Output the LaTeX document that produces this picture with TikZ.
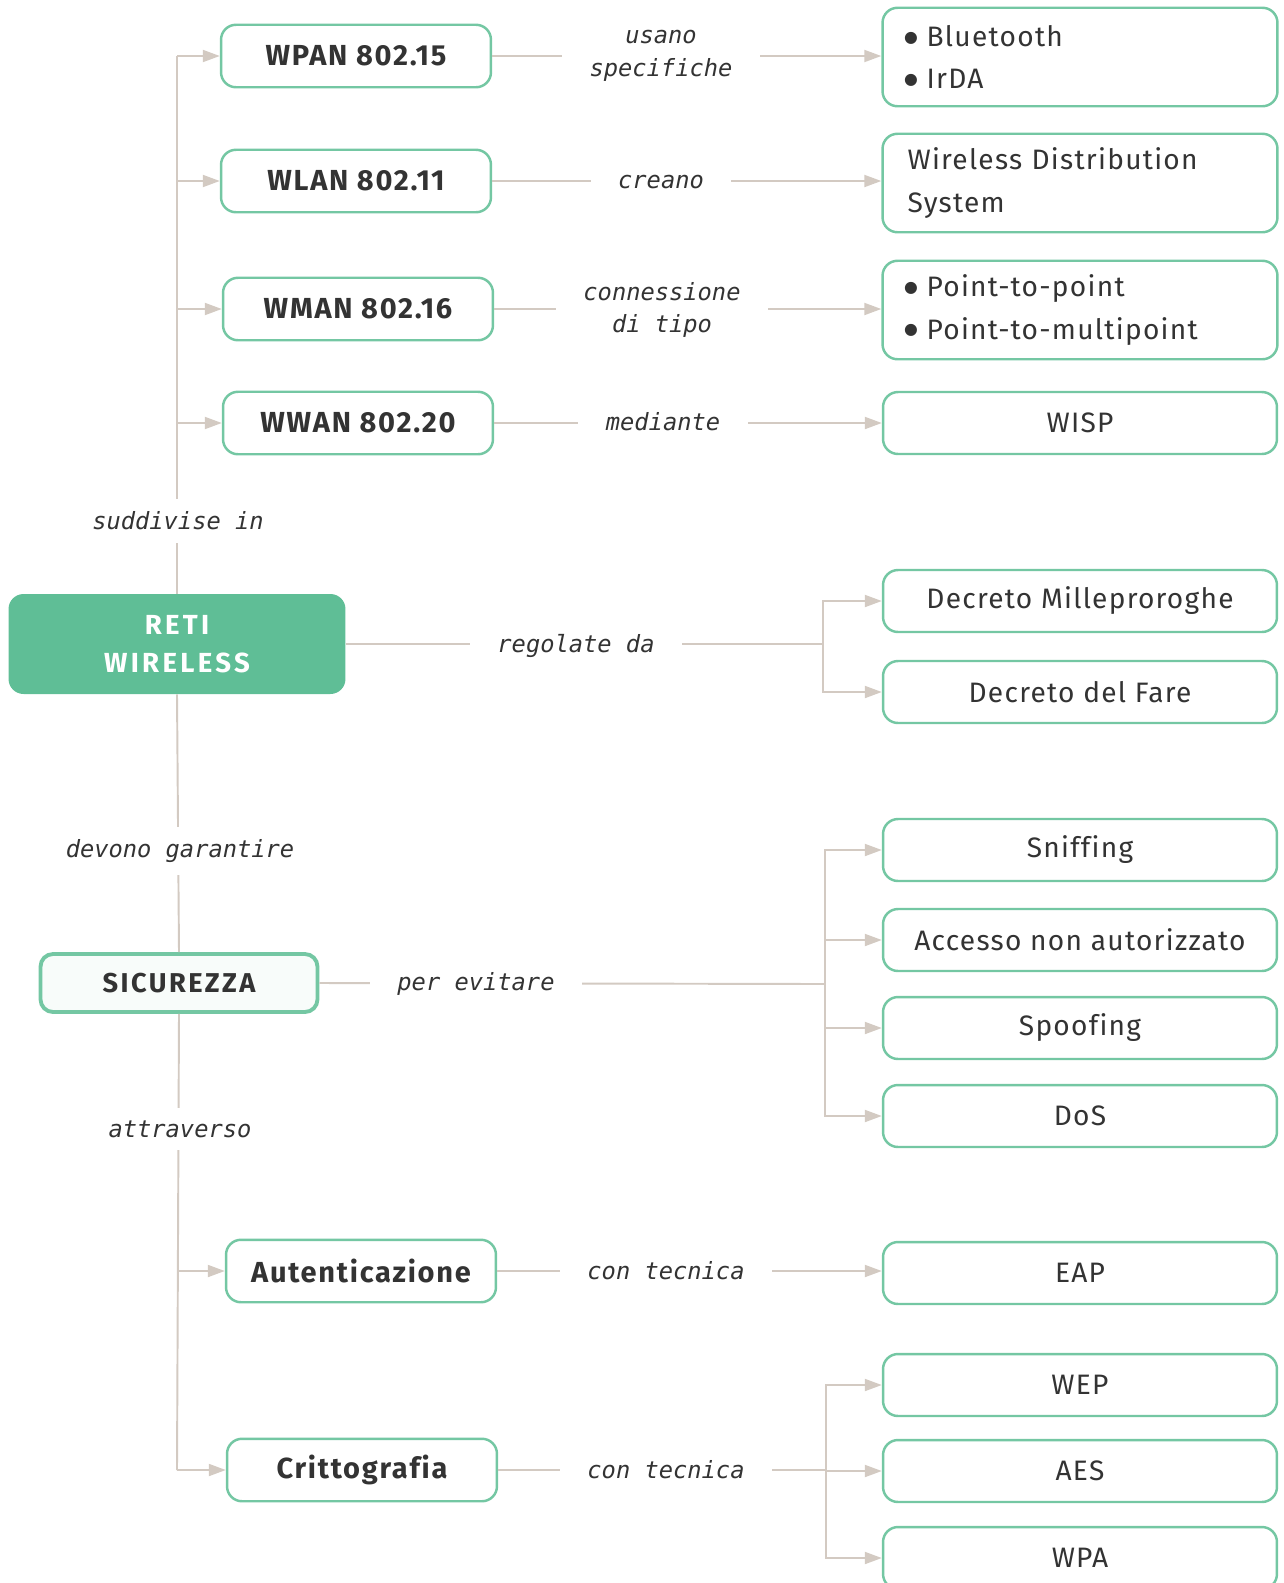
\documentclass[tikz,border=0pt]{standalone}
\usepackage{fontspec}
\setmainfont[Ligatures=NoCommon]{Fira Sans}
\newfontfamily\verbfont{DejaVu Sans Mono}
\newfontfamily\symfont{DejaVu Sans}
\usetikzlibrary{arrows.meta}
\definecolor{mint}{HTML}{74C7A3}
\definecolor{mintfill}{HTML}{5FBE96}
\definecolor{wire}{HTML}{D3CAC2}
\definecolor{ink}{HTML}{333333}
\newcommand\dotitem{\hspace{-2pt}\raisebox{2.4pt}{\symfont\fontsize{9}{9}\selectfont ●}\hspace{5pt}}

\begin{document}
\begin{tikzpicture}[x=0.02cm,y=-0.02cm,
  box/.style={draw=mint,line width=1.4pt,rounded corners=0.3cm,fill=white,text=ink,
    font=\fontsize{16}{24}\selectfont\addfontfeatures{LetterSpace=4.5},minimum width=7.88cm,minimum height=1.24cm},
  listbox/.style={box,align=left,text width=6.9cm,inner xsep=0.5cm,minimum height=1.97cm},
  kind/.style={draw=mint,line width=1.4pt,rounded corners=0.3cm,fill=white,text=ink,
    font=\fontsize{16.5}{20}\selectfont\bfseries\addfontfeatures{LetterSpace=6},minimum width=5.4cm,minimum height=1.25cm},
  verb/.style={fill=white,text=ink,font=\verbfont\itshape\fontsize{13.5}{18.5}\selectfont,
    align=center,inner xsep=0.55cm,inner ysep=0.25cm},
  link/.style={draw=wire,line width=1.1pt},
  tip/.style={link,-{Triangle[length=0.34cm,width=0.24cm]}},
]
\useasboundingbox (0,0) rectangle (1284,1583);

% main topic and security
\node[fill=mintfill,rounded corners=0.3cm,text=white,align=center,minimum width=6.74cm,
  minimum height=2cm,font=\fontsize{15.7}{22}\selectfont\bfseries\addfontfeatures{LetterSpace=12}]
  (reti) at (177,644) {RETI\\WIRELESS};
\node[draw=mint,line width=2.2pt,rounded corners=0.25cm,fill=mint!5,text=ink,minimum width=5.54cm,
  minimum height=1.16cm,font=\fontsize{15.5}{20}\selectfont\bfseries\addfontfeatures{LetterSpace=9}]
  (sic) at (179,983) {SICUREZZA};

% kinds of network
\node[kind] (wpan) at (356,56) {WPAN 802.15};
\node[kind] (wlan) at (356,181) {WLAN 802.11};
\node[kind] (wman) at (358,309) {WMAN 802.16};
\node[kind] (wwan) at (358,423) {WWAN 802.20};
\node[kind] (auth) at (361,1271) {Autenticazione};
\node[kind] (crit) at (362,1470) {Crittografia};

% right column
\node[listbox] (bt) at (1080,57) {\dotitem Bluetooth\\\dotitem IrDA};
\node[listbox] (wds) at (1080,183) {Wireless Distribution\\System};
\node[listbox] (ptp) at (1080,310) {\dotitem Point-to-point\\\dotitem Point-to-multipoint};
\node[box] (wisp) at (1080,423) {WISP};
\node[box] (dm) at (1080,601) {Decreto Milleproroghe};
\node[box] (df) at (1080,692) {Decreto del Fare};
\node[box] (sniff) at (1080,850) {Sniffing};
\node[box] (acc) at (1080,940) {Accesso non autorizzato};
\node[box] (spoof) at (1080,1028) {Spoofing};
\node[box] (dos) at (1080,1116) {DoS};
\node[box] (eap) at (1080,1273) {EAP};
\node[box] (wep) at (1080,1385) {WEP};
\node[box] (aes) at (1080,1471) {AES};
\node[box] (wpa) at (1080,1558) {WPA};

% trunk on the left
\coordinate (top) at (177,56);
\coordinate (bot) at (177,1470);
\draw[link] (top) -- (reti.north);
\draw[link] (reti.south) -- (sic.north);
\draw[link] (sic.south) -- (bot);
\draw[tip] (top) -- (wpan.west);
\foreach \k in {wlan,wman,wwan,auth,crit}
  \draw[tip] (\k.west -| top) -- (\k.west);

% straight links to the right
\foreach \a/\b in {wpan/bt,wlan/wds,wman/ptp,wwan/wisp,auth/eap}
  \draw[tip] (\a.east) -- (\a.east -| \b.west);

% forks
\coordinate (rj) at (823,644);
\draw[link] (reti.east) -- (rj);
\foreach \b in {dm,df} \draw[tip] (rj) |- (\b.west);
\coordinate (ej) at (825,984);
\draw[link] (sic.east) -- (ej);
\foreach \b in {sniff,acc,spoof,dos} \draw[tip] (ej) |- (\b.west);
\coordinate (cj) at (826,1470);
\draw[link] (crit.east) -- (cj);
\foreach \b in {wep,aes,wpa} \draw[tip] (cj) |- (\b.west);

% link labels
\node[verb] (l1) at (661,56) {usano\\specifiche};
\node[verb] (l2) at (661,182) {creano};
\node[verb] (l3) at (662,310) {connessione\\di tipo};
\node[verb] (l4) at (663,422) {mediante};
\node[verb] (l5) at (178,521) {suddivise in};
\node[verb] (l6) at (576,646) {regolate da};
\node[verb] (l7) at (180,851) {devono garantire};
\node[verb] (l8) at (476,984) {per evitare};
\node[verb] (l9) at (180,1129) {attraverso};
\node[verb] (l10) at (666,1271) {con tecnica};
\node[verb] (l11) at (666,1470) {con tecnica};
\end{tikzpicture}
\end{document}
